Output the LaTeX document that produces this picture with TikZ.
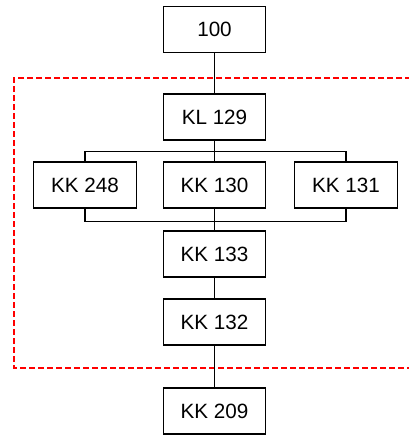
\documentclass[tikz,border=0pt]{standalone}
\usepackage{fontspec}
\setmainfont{Liberation Sans}
\usepackage{tikz}

\begin{document}
\begin{tikzpicture}[x=0.75pt,y=-0.75pt,
  box/.style={draw,line width=0.9pt,minimum width=77pt,minimum height=34.5pt,
    inner sep=0pt,font=\fontsize{15.5}{17}\selectfont}]

\useasboundingbox (0,0) rectangle (409,435);

% Group
\draw[red,line width=0.8pt,dash pattern=on 4.5pt off 2.25pt] (420,78) -- (14,78) -- (14,368) -- (420,368);

% Boxes
\node[box] (n100) at (214.5,29.5) {100};
\node[box] (kl129) at (214.5,117) {KL 129};
\node[box] (kk248) at (85,185) {KK 248};
\node[box] (kk130) at (214.5,185) {KK 130};
\node[box] (kk131) at (346,185) {KK 131};
\node[box] (kk133) at (214.5,254) {KK 133};
\node[box] (kk132) at (214.5,322) {KK 132};
\node[box] (kk209) at (214.5,411) {KK 209};

% Links
\draw[line width=0.9pt] (n100) -- (kl129);
\draw[line width=0.9pt] (kl129) -- (kk130);
\draw[line width=0.9pt] (kk248.north) -- ++(0,-10) -| (kk131.north);
\draw[line width=0.9pt] (kk248.south) -- ++(0,13) -| (kk131.south);
\draw[line width=0.9pt] (kk130) -- (kk133);
\draw[line width=0.9pt] (kk133) -- (kk132);
\draw[line width=0.9pt] (kk132) -- (kk209);

\end{tikzpicture}
\end{document}
